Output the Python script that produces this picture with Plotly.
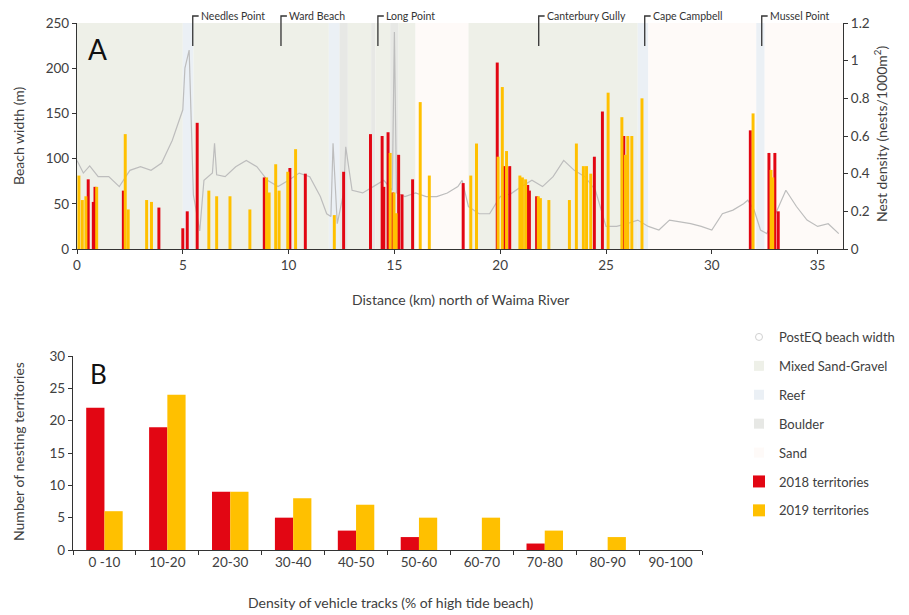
import plotly.graph_objects as go

# ---------------- Panel A data ----------------
bw_km = [0, 0.3, 0.6, 1.0, 1.5, 2.0, 2.5, 3.0, 3.5, 4.0, 4.5, 4.8, 5.0, 5.1, 5.3,
         5.5, 5.8, 6.0, 6.4, 6.5, 6.6, 7.0, 7.5, 8.0, 8.5, 9.0, 9.5, 10.0, 10.5, 11.0,
         11.5, 11.8, 12.0, 12.1, 12.3, 12.6, 12.7, 13.0, 13.5, 14.0, 14.5, 14.9, 15.0, 15.1, 15.5,
         16.0, 16.5, 17.0, 17.5, 18.0, 18.2, 18.5, 19.0, 19.5, 20.0, 20.5, 21.0, 21.5, 22.0, 22.5,
         23.0, 23.5, 24.0, 24.5, 25.0, 25.5, 26.0, 26.5, 27.0, 27.5, 28.0, 28.5, 29.0, 29.5, 30.0,
         30.5, 31.0, 31.5, 31.7, 32.0, 32.3, 32.6, 33.0, 33.5, 34.0, 34.5, 35.0, 35.5, 36.0]
bw_m = [98, 84, 92, 80, 80, 69, 87, 91, 87, 95, 120, 139, 154, 200, 220,
        60, 20, 76, 84, 117, 82, 80, 91, 98, 91, 76, 69, 76, 84, 80,
        58, 39, 36, 117, 28, 62, 113, 65, 62, 69, 76, 65, 240, 62, 58,
        62, 58, 58, 62, 69, 76, 47, 39, 39, 58, 61, 69, 76, 69, 80,
        98, 87, 80, 65, 25, 25, 28, 32, 25, 21, 32, 30, 28, 25, 21,
        39, 43, 50, 54, 43, 21, 17, 39, 65, 47, 32, 25, 28, 17]

km_2018 = [0.53, 0.77, 0.85, 2.19, 3.87, 5.0, 5.21, 5.68, 8.85, 10.06, 10.79, 12.6, 13.87,
           14.42, 14.5, 14.7, 14.92, 15.2, 15.36, 15.86, 18.25, 19.86, 20.2, 20.45, 21.3,
           21.38, 21.72, 24.45, 24.83, 25.84, 31.82, 32.7, 32.98, 33.14]
dens_2018 = [0.37, 0.25, 0.33, 0.31, 0.22, 0.11, 0.20, 0.67, 0.38, 0.43, 0.40, 0.41, 0.61,
             0.60, 0.33, 0.62, 0.30, 0.50, 0.29, 0.37, 0.35, 0.99, 0.44, 0.44, 0.34,
             0.31, 0.28, 0.49, 0.73, 0.60, 0.63, 0.51, 0.51, 0.20]

km_2019 = [0.09, 0.25, 0.42, 0.93, 2.28, 2.42, 3.29, 3.52, 6.23, 6.6, 7.23, 8.17, 8.96, 9.08,
           9.39, 9.55, 9.96, 10.33, 12.16, 14.8, 14.98, 15.08, 16.22, 16.65, 18.61, 18.88,
           19.9, 20.1, 20.3, 20.93, 21.05, 21.2, 21.8, 21.9, 22.3, 23.27, 23.6, 23.93, 24.08,
           24.28, 25.1, 25.75, 25.92, 26.03, 26.22, 26.7, 31.95, 32.8, 32.88]
dens_2019 = [0.39, 0.26, 0.28, 0.33, 0.61, 0.21, 0.26, 0.25, 0.31, 0.28, 0.28, 0.21, 0.38, 0.30,
             0.45, 0.31, 0.41, 0.53, 0.18, 0.51, 0.30, 0.19, 0.78, 0.39, 0.39, 0.56,
             0.49, 0.86, 0.52, 0.39, 0.38, 0.37, 0.28, 0.27, 0.26, 0.26, 0.56, 0.44, 0.44,
             0.40, 0.83, 0.70, 0.50, 0.60, 0.60, 0.80, 0.72, 0.42, 0.38]

# substrate segments along the coast
seg_start = [0, 5.0, 5.5, 11.9, 12.4, 12.8, 13.9, 14.1, 14.8, 15.2, 16.0, 18.5, 26.5, 27.0, 32.1, 32.5]
seg_end = [5.0, 5.5, 11.9, 12.4, 12.8, 13.9, 14.1, 14.8, 15.2, 16.0, 18.5, 26.5, 27.0, 32.1, 32.5, 36.2]
seg_type = ["Mixed Sand-Gravel", "Reef", "Mixed Sand-Gravel", "Reef", "Boulder", "Mixed Sand-Gravel",
            "Boulder", "Mixed Sand-Gravel", "Boulder", "Mixed Sand-Gravel", "Sand",
            "Mixed Sand-Gravel", "Reef", "Sand", "Reef", "Sand"]
substrate_names = ["Mixed Sand-Gravel", "Reef", "Boulder", "Sand"]
substrate_colors = {"Mixed Sand-Gravel": "#eef0e8", "Reef": "#ebf0f5",
                    "Boulder": "#e7e8e5", "Sand": "#fefaf8"}

place_names = ["Needles Point", "Ward Beach", "Long Point", "Canterbury Gully", "Cape Campbell", "Mussel Point"]
place_km = [5.47, 9.64, 14.22, 21.82, 26.83, 32.36]

# ---------------- Panel B data ----------------
track_bins = ["0 -10", "10-20", "20-30", "30-40", "40-50", "50-60", "60-70", "70-80", "80-90", "90-100"]
terr_2018 = [22, 19, 9, 5, 3, 2, 0, 1, 0, 0]
terr_2019 = [6, 24, 9, 8, 7, 5, 5, 3, 2, 0]

RED = "#e20613"
ORANGE = "#ffc000"
FONT = "Lato"
TXT = "#404040"

fig = go.Figure()

# Beach width line
fig.add_trace(go.Scatter(x=bw_km, y=bw_m, mode="lines", name="PostEQ beach width",
                         line=dict(color="#bdbdbd", width=1.2), xaxis="x", yaxis="y",
                         showlegend=False))
fig.add_trace(go.Scatter(x=[None], y=[None], mode="markers", name="PostEQ beach width",
                         marker=dict(symbol="circle-open", size=7, color="#d0d0d0"),
                         xaxis="x", yaxis="y", legendgroup="g0", legendrank=1))

# Nest density bars
fig.add_trace(go.Bar(x=km_2018, y=dens_2018, width=0.14, offset=-0.07, marker_color=RED,
                     marker_line_width=0, xaxis="x", yaxis="y2", showlegend=False, name="2018 territories"))
fig.add_trace(go.Bar(x=km_2019, y=dens_2019, width=0.14, offset=-0.07, marker_color=ORANGE,
                     marker_line_width=0, xaxis="x", yaxis="y2", showlegend=False, name="2019 territories"))

# Legend-only substrate entries
for i, s in enumerate(substrate_names):
    fig.add_trace(go.Scatter(x=[None], y=[None], mode="markers", name=s,
                             marker=dict(symbol="square", size=10, color=substrate_colors[s]),
                             xaxis="x", yaxis="y", legendgroup="g%d" % (i + 1), legendrank=2 + i))

# Panel B bars
fig.add_trace(go.Bar(x=track_bins, y=terr_2018, width=0.29, offset=-0.29, marker_color=RED,
                     marker_line_width=0, xaxis="x2", yaxis="y3", name="2018 territories",
                     legendgroup="g5", legendrank=6))
fig.add_trace(go.Bar(x=track_bins, y=terr_2019, width=0.29, offset=0.0, marker_color=ORANGE,
                     marker_line_width=0, xaxis="x2", yaxis="y3", name="2019 territories",
                     legendgroup="g6", legendrank=7))

shapes = []
for a, b, t in zip(seg_start, seg_end, seg_type):
    shapes.append(dict(type="rect", xref="x", yref="y", x0=a, x1=b, y0=0, y1=250,
                       fillcolor=substrate_colors[t], line_width=0, layer="below"))

annotations = []
y_bot = (615 - 46) / 615
y_top = (615 - 16) / 615
for name, k in zip(place_names, place_km):
    shapes.append(dict(type="path", xref="x", yref="paper",
                       path="M %f,%f L %f,%f L %f,%f" % (k, y_bot, k, y_top, k + 0.28, y_top),
                       line=dict(color="#333333", width=1.3)))
    annotations.append(dict(text=name, x=k + 0.3, y=y_top, xref="x", yref="paper",
                            xanchor="left", yanchor="middle", showarrow=False,
                            font=dict(size=10.5, color="#333333", family=FONT)))

annotations += [
    dict(text="A", x=86 / 909, y=(615 - 49) / 615, xref="paper", yref="paper", showarrow=False,
         xanchor="left", yanchor="middle", font=dict(size=28, color="#111", family=FONT)),
    dict(text="B", x=88 / 909, y=(615 - 374) / 615, xref="paper", yref="paper", showarrow=False,
         xanchor="left", yanchor="middle", font=dict(size=26, color="#111", family=FONT)),
    dict(text="Beach width (m)", x=18 / 909, y=(615 - 136) / 615, xref="paper", yref="paper",
         showarrow=False, textangle=-90, xanchor="center", yanchor="middle",
         font=dict(size=14, color=TXT, family=FONT)),
    dict(text="Nest density (nests/1000m<sup>2</sup>)", x=880 / 909, y=(615 - 134) / 615,
         xref="paper", yref="paper", showarrow=False, textangle=-90, xanchor="center",
         yanchor="middle", font=dict(size=14, color=TXT, family=FONT)),
    dict(text="Distance (km) north of Waima River", x=460 / 909, y=(615 - 299) / 615,
         xref="paper", yref="paper", showarrow=False, xanchor="center", yanchor="middle",
         font=dict(size=14, color=TXT, family=FONT)),
    dict(text="Number of nesting territories", x=18 / 909, y=(615 - 452) / 615,
         xref="paper", yref="paper", showarrow=False, textangle=-90, xanchor="center",
         yanchor="middle", font=dict(size=14, color=TXT, family=FONT)),
    dict(text="Density of vehicle tracks (% of high tide beach)", x=391 / 909, y=(615 - 602) / 615,
         xref="paper", yref="paper", showarrow=False, xanchor="center", yanchor="middle",
         font=dict(size=14, color=TXT, family=FONT)),
]

axis_common = dict(showline=True, linecolor="#333333", linewidth=1.3, ticks="outside",
                   ticklen=4, tickcolor="#333333", showgrid=False, zeroline=False,
                   automargin=False,
                   tickfont=dict(size=13.5, color=TXT, family=FONT))

fig.update_layout(
    width=909, height=615,
    margin=dict(l=0, r=0, t=0, b=0, autoexpand=False),
    paper_bgcolor="white", plot_bgcolor="rgba(0,0,0,0)",
    barmode="overlay",
    font=dict(family=FONT, color=TXT),
    xaxis=dict(domain=[77 / 909, 843 / 909], anchor="y", range=[0, 36.2],
               tickvals=[0, 5, 10, 15, 20, 25, 30, 35], **axis_common),
    yaxis=dict(domain=[(615 - 249) / 615, (615 - 23) / 615], anchor="x", range=[0, 250],
               tickvals=[0, 50, 100, 150, 200, 250], **axis_common),
    yaxis2=dict(overlaying="y", side="right", anchor="x", range=[0, 1.2],
                tickvals=[0, 0.2, 0.4, 0.6, 0.8, 1, 1.2], **axis_common),
    xaxis2=dict(domain=[73 / 909, 702 / 909], anchor="y3", type="category",
                range=[-0.5, 9.5], tickson="boundaries", **axis_common),
    yaxis3=dict(domain=[(615 - 550) / 615, (615 - 356) / 615], anchor="x2", range=[0, 30],
                tickvals=[0, 5, 10, 15, 20, 25, 30], **axis_common),
    legend=dict(x=739 / 909, y=(615 - 322) / 615, xanchor="left", yanchor="top",
                traceorder="grouped", tracegroupgap=9, itemwidth=30,
                font=dict(size=13, color="#404040", family=FONT), bgcolor="rgba(0,0,0,0)"),
    shapes=shapes,
    annotations=annotations,
)

fig.write_html("out.html", config={"displayModeBar": False},
               post_script="document.body.style.margin='0';document.body.style.overflow='hidden';")
